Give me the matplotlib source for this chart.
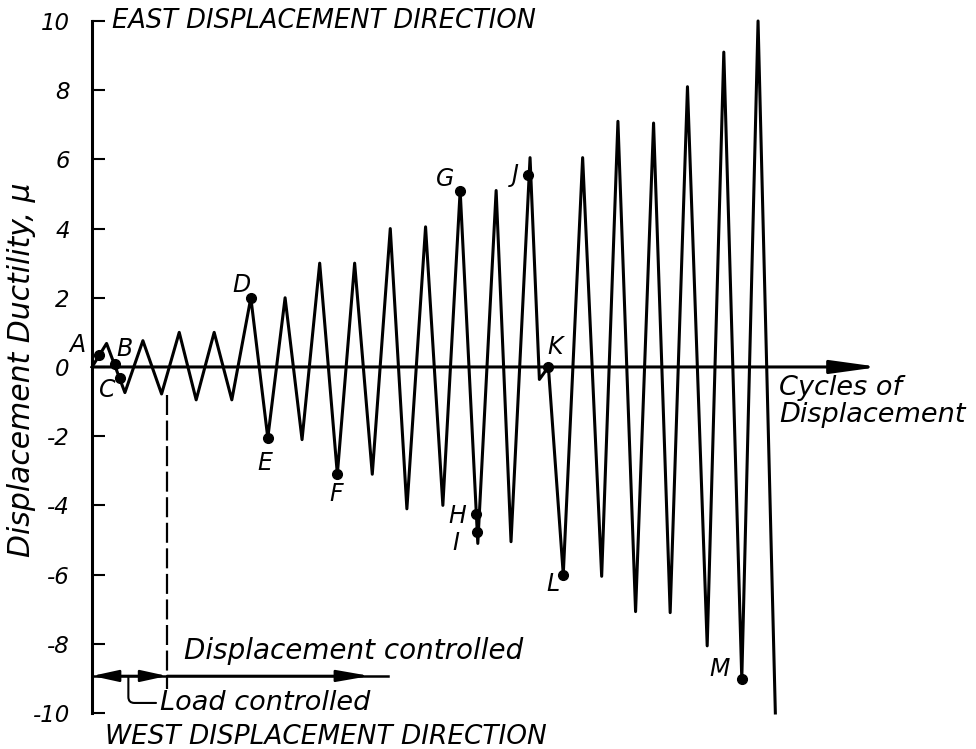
import matplotlib as mpl
mpl.use('Agg')
import matplotlib.pyplot as plt

# displacement history (x: cycles, y: ductility)
cycle_x = [0, 0.42, 0.95, 1.47, 2.01, 2.52, 3.01, 3.53, 4.04, 4.59, 5.08,
           5.58, 6.07, 6.58, 7.09, 7.59, 8.10, 8.62, 9.10, 9.64, 10.14,
           10.64, 11.15, 11.68, 12.11, 12.66, 12.93, 13.19, 13.62, 14.18, 14.73,
           15.20, 15.71, 16.23, 16.71, 17.21, 17.78, 18.26, 18.78, 19.25, 19.75]
ductility = [0, 0.68, -0.74, 0.76, -0.78, 1.0, -0.95, 1.0, -0.95, 2.0, -2.05,
             2.0, -2.1, 3.0, -3.1, 3.0, -3.1, 4.0, -4.1, 4.05, -4.0,
             5.1, -5.1, 5.1, -5.05, 6.05, -0.36, 0.0, -6.0, 6.05, -6.05,
             7.1, -7.07, 7.05, -7.1, 8.1, -8.06, 9.1, -9.03, 10.0, -10.0]

# marked points
point_names = ['A', 'B', 'C', 'D', 'E', 'F', 'G', 'H', 'I', 'J', 'K', 'L', 'M']
point_x = [0.2, 0.66, 0.81, 4.59, 5.08, 7.09, 10.64, 11.10, 11.12, 12.59, 13.19, 13.62, 18.78]
point_y = [0.35, 0.08, -0.33, 2.0, -2.05, -3.1, 5.1, -4.26, -4.76, 5.55, 0.0, -6.0, -9.03]
label_x = [-0.42, 0.95, 0.43, 4.31, 5.0, 7.05, 10.2, 10.55, 10.52, 12.25, 13.38, 13.32, 18.15]
label_y = [0.64, 0.52, -0.66, 2.37, -2.77, -3.67, 5.43, -4.31, -5.09, 5.55, 0.58, -6.27, -8.73]

y_ticks = [-10, -8, -6, -4, -2, 0, 2, 4, 6, 8, 10]

load_end = 2.17      # end of load controlled stage
disp_arrow = 7.83
ctrl_end = 8.55
ctrl_y = -8.93

fig = plt.figure(figsize=(9.76, 7.49), dpi=100)
ax = fig.add_axes([0.0943, 0.0481, 0.7976, 0.9239])
ax.set_xlim(0, 22.5)
ax.set_ylim(-10, 10)

for s in ['top', 'right', 'bottom']:
    ax.spines[s].set_visible(False)
ax.spines['left'].set_linewidth(2.2)
ax.spines['left'].set_bounds(-10, 10)
ax.set_xticks([])
ax.set_yticks(y_ticks)
ax.set_yticklabels([str(t) for t in y_ticks], fontsize=16.5, fontstyle='italic')
ax.tick_params(axis='y', direction='in', length=9, width=1.5, pad=16)

ax.set_ylabel('Displacement Ductility, μ', fontsize=21.5, fontstyle='italic')
ax.yaxis.set_label_coords(-0.072, 0.496)

# horizontal axis with arrow
ax.annotate('', xy=(22.75, 0), xytext=(0, 0),
            arrowprops=dict(arrowstyle='-|>,head_length=2.9,head_width=0.4',
                            mutation_scale=10, color='black', lw=2.2,
                            shrinkA=0, shrinkB=0), annotation_clip=False)

ax.plot(cycle_x, ductility, color='black', lw=2.2, clip_on=False, zorder=3)
ax.plot(point_x, point_y, 'o', color='black', ms=7, clip_on=False, zorder=4)
for name, lx, ly in zip(point_names, label_x, label_y):
    ax.text(lx, ly, name, fontsize=17, fontstyle='italic', ha='center', va='center')

# stage boundary
ax.plot([load_end, load_end], [-0.8, -9.3], color='black', lw=1.6,
        ls=(0, (9, 2.5)), clip_on=False)

# control stage arrows
ax.plot([0, ctrl_end], [ctrl_y, ctrl_y], color='black', lw=1.8, clip_on=False)
ax.annotate('', xy=(0, ctrl_y), xytext=(load_end, ctrl_y),
            arrowprops=dict(arrowstyle='<|-|>,head_length=1.6,head_width=0.35',
                            mutation_scale=10, color='black', lw=1.8,
                            shrinkA=0, shrinkB=0), annotation_clip=False)
ax.annotate('', xy=(disp_arrow + 0.2, ctrl_y), xytext=(load_end, ctrl_y),
            arrowprops=dict(arrowstyle='-|>,head_length=2.0,head_width=0.35',
                            mutation_scale=10, color='black', lw=1.8,
                            shrinkA=0, shrinkB=0), annotation_clip=False)

ax.text(2.65, -8.2, 'Displacement controlled', fontsize=20, fontstyle='italic',
        ha='left', va='center')
ax.annotate('Load controlled', xy=(1.05, ctrl_y), xytext=(1.97, -9.71),
            fontsize=19.5, fontstyle='italic', ha='left', va='center',
            arrowprops=dict(arrowstyle='-', lw=1.5, color='black',
                            connectionstyle='angle,angleA=0,angleB=90,rad=6',
                            shrinkA=1, shrinkB=0, relpos=(0, 0.5)),
            annotation_clip=False)

ax.text(0.58, 10.0, 'EAST DISPLACEMENT DIRECTION', fontsize=18.5, fontstyle='italic',
        ha='left', va='center')
ax.text(0.38, -10.68, 'WEST DISPLACEMENT DIRECTION', fontsize=19, fontstyle='italic',
        ha='left', va='center', clip_on=False)
ax.text(19.86, -1.0, 'Cycles of\nDisplacement', fontsize=19.5, fontstyle='italic',
        ha='left', va='center', linespacing=1.05, clip_on=False)

fig.savefig('out.png', dpi=100)
plt.close()
